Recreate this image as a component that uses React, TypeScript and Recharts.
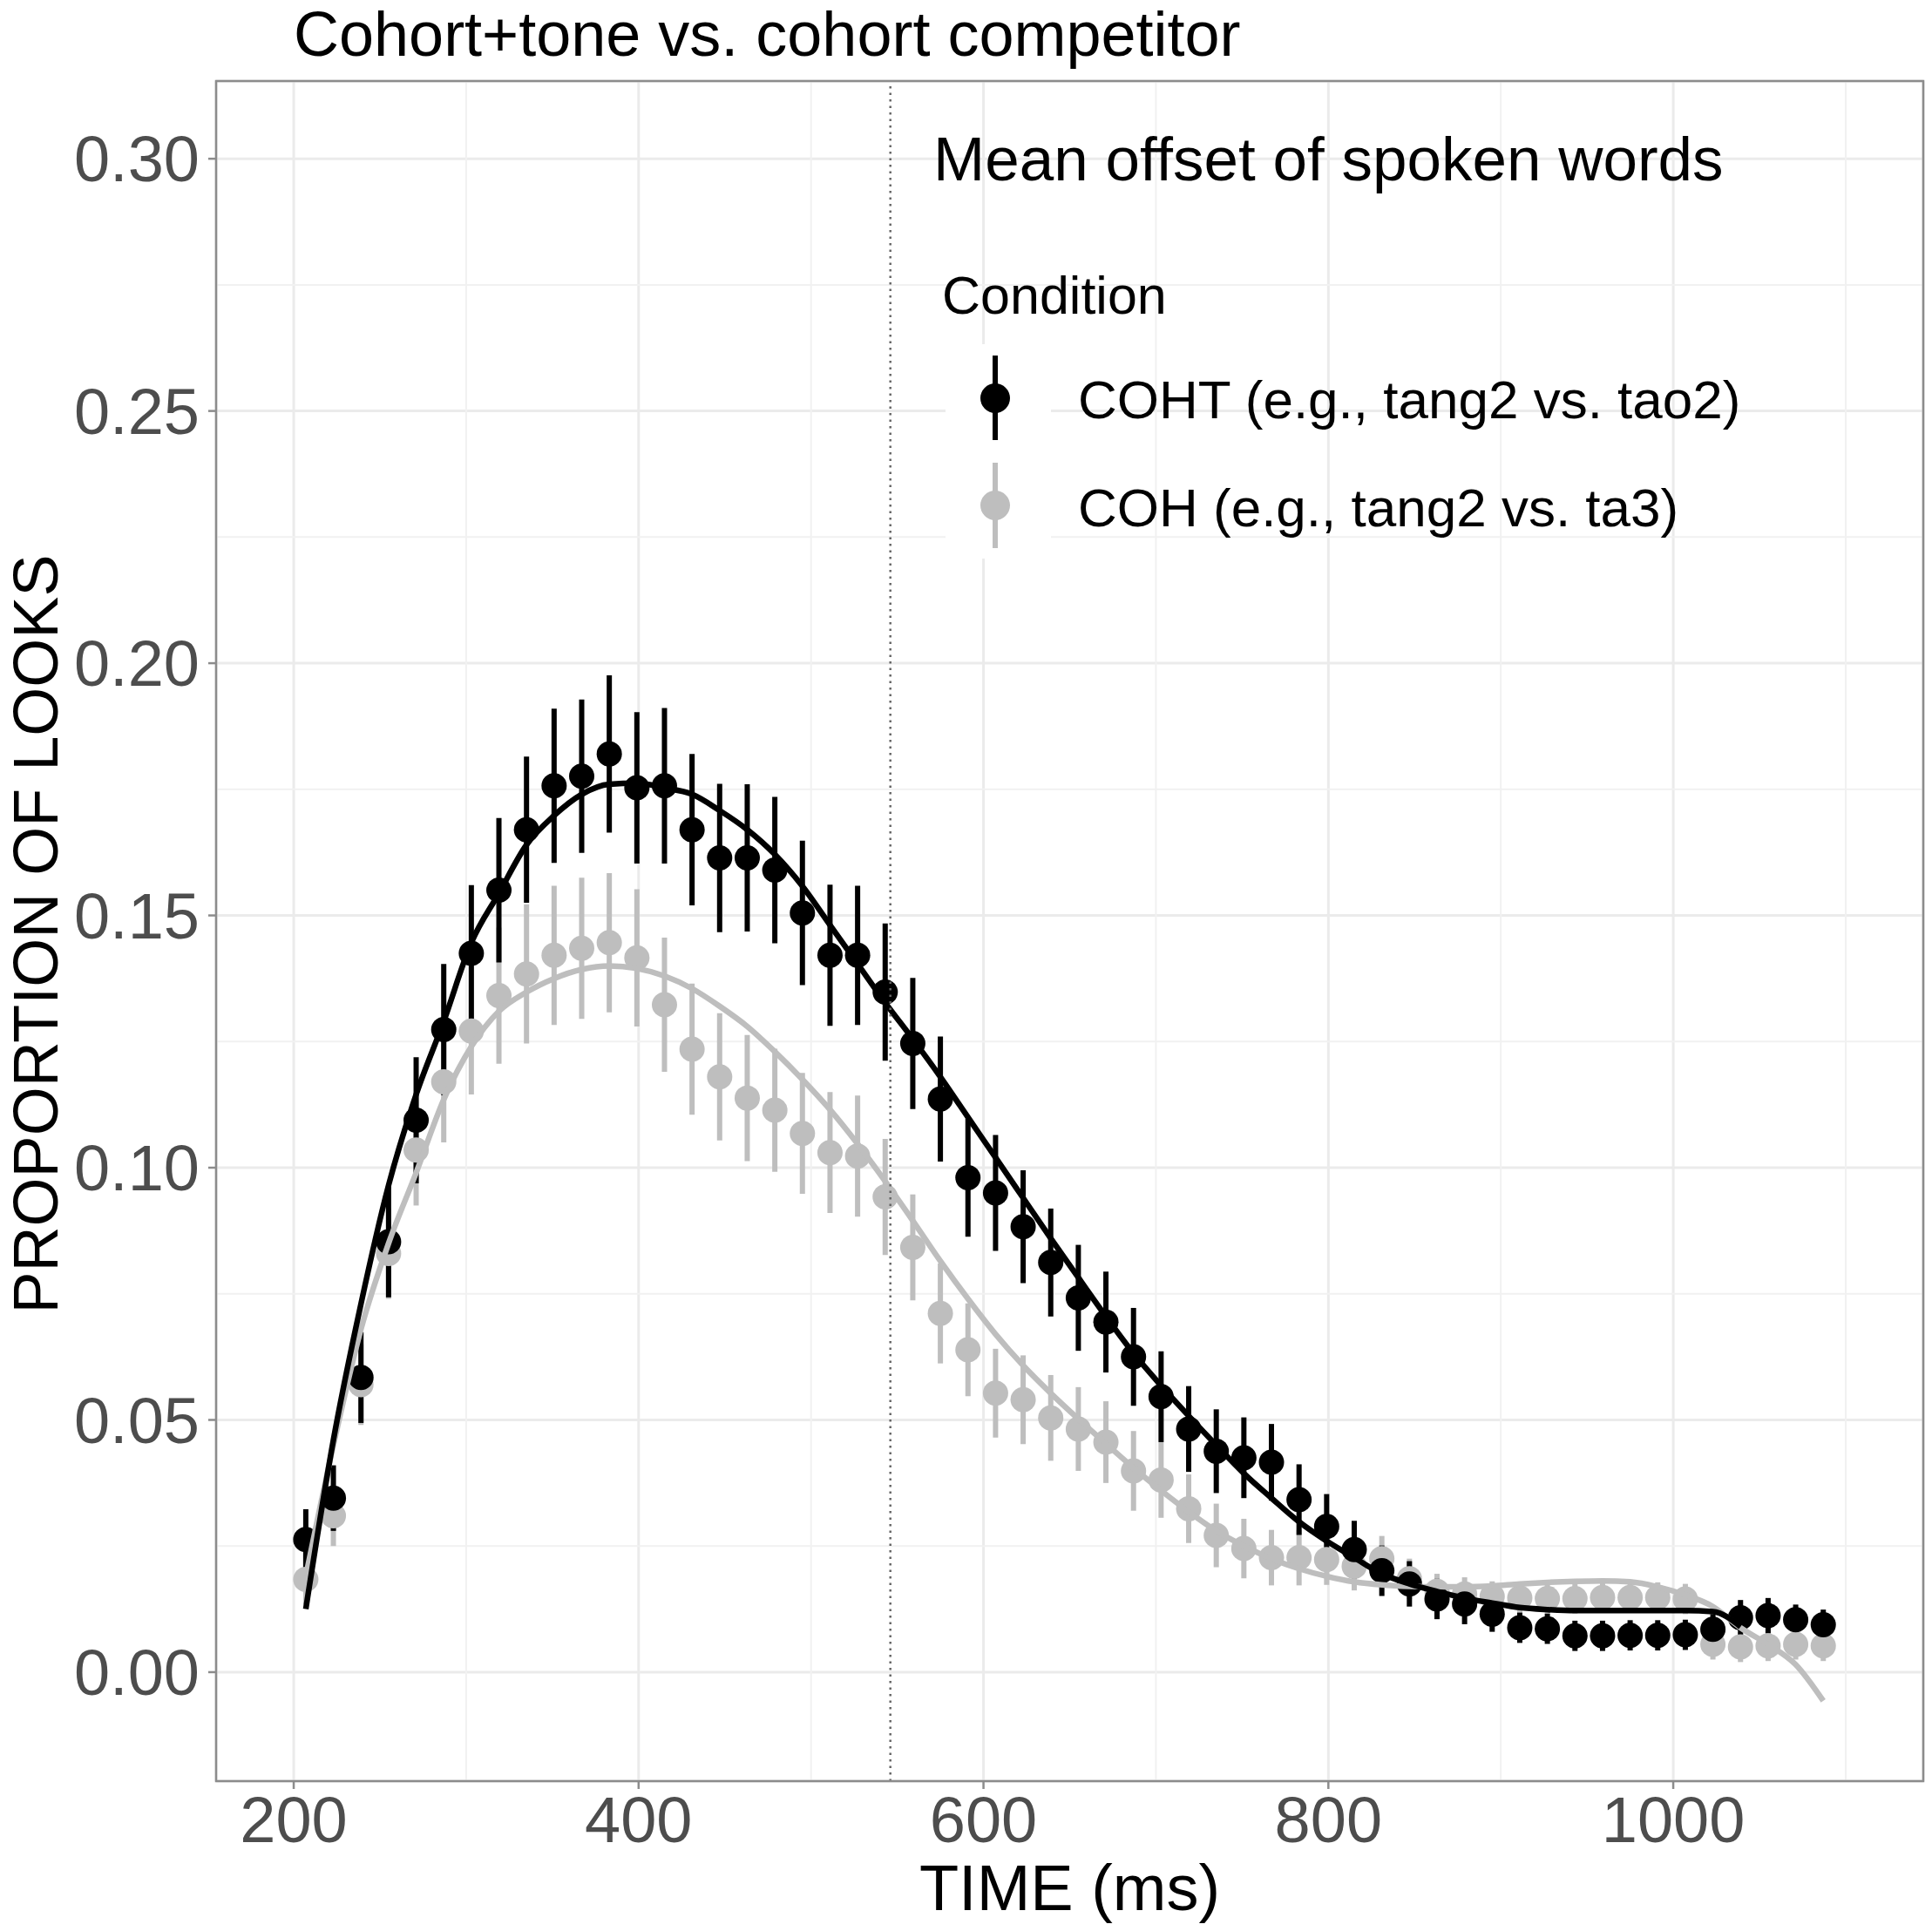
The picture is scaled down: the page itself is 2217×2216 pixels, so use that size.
import React from 'react';
import {
  ComposedChart,
  XAxis,
  YAxis,
  CartesianGrid,
  Scatter,
  Line,
  ErrorBar,
  ReferenceLine,
  ReferenceArea,
  ReferenceDot,
} from 'recharts';

const FONT = '"Liberation Sans", Arial, Helvetica, sans-serif';
const W = 2217;
const H = 2216;

// Time bins (ms)
const times = [
  207, 223, 239, 255, 271, 287, 303, 319,
  335, 351, 367, 383, 399, 415, 431, 447,
  463, 479, 495, 511, 527, 543, 559, 575,
  591, 607, 623, 639, 655, 671, 687, 703,
  719, 735, 751, 767, 783, 799, 815, 831,
  847, 863, 879, 895, 911, 927, 943, 959,
  975, 991, 1007, 1023, 1039, 1055, 1071, 1087,
];

// COHT observed means and error half-widths
const coht = [
  0.0263, 0.0345, 0.0584, 0.0853, 0.1094, 0.1274, 0.1425, 0.155,
  0.167, 0.1757, 0.1776, 0.182, 0.1753, 0.1757, 0.167, 0.1614,
  0.1614, 0.159, 0.1505, 0.1421, 0.1421, 0.1348, 0.1246, 0.1136,
  0.098, 0.095, 0.0883, 0.0812, 0.0742, 0.0694, 0.0625, 0.0546,
  0.0482, 0.0438, 0.0425, 0.0416, 0.0342, 0.0289, 0.0243, 0.0201,
  0.0175, 0.0145, 0.0135, 0.0115, 0.0088, 0.0086, 0.0072, 0.0072,
  0.0073, 0.0073, 0.0074, 0.0085, 0.0108, 0.0112, 0.0104, 0.0094,
];
const cohtErr = [
  0.006, 0.0065, 0.009, 0.011, 0.0125, 0.013, 0.0135, 0.0143,
  0.0145, 0.0153, 0.0152, 0.0156, 0.015, 0.0154, 0.015, 0.0147,
  0.0146, 0.0145, 0.0143, 0.014, 0.0138, 0.0136, 0.013, 0.0124,
  0.0117, 0.0115, 0.0112, 0.0107, 0.0105, 0.01, 0.0097, 0.009,
  0.0085, 0.0083, 0.008, 0.0076, 0.007, 0.0064, 0.0057, 0.005,
  0.0045, 0.004, 0.004, 0.0035, 0.003, 0.003, 0.003, 0.003,
  0.003, 0.003, 0.003, 0.003, 0.0035, 0.0035, 0.003, 0.003,
];

// COH observed means and error half-widths
const coh = [
  0.0184, 0.031, 0.057, 0.083, 0.1035, 0.117, 0.1271, 0.1341,
  0.1384, 0.1421, 0.1435, 0.1446, 0.1416, 0.1323, 0.1235, 0.118,
  0.1138, 0.1114, 0.1068, 0.103, 0.1023, 0.0942, 0.0842, 0.0711,
  0.0639, 0.0553, 0.054, 0.0504, 0.0482, 0.0456, 0.0399, 0.0381,
  0.0324, 0.0271, 0.0245, 0.0227, 0.0227, 0.0223, 0.021, 0.0225,
  0.0185, 0.016, 0.0155, 0.015, 0.0147, 0.0146, 0.0146, 0.0148,
  0.0148, 0.0148, 0.0145, 0.0055, 0.005, 0.0052, 0.0055, 0.0052,
];
const cohErr = [
  0.005, 0.006, 0.008, 0.009, 0.011, 0.012, 0.0126, 0.0135,
  0.0138, 0.0138, 0.014, 0.0138, 0.0136, 0.0133, 0.013, 0.0126,
  0.0125, 0.0122, 0.012, 0.012, 0.012, 0.0115, 0.0105, 0.0099,
  0.0092, 0.0088, 0.0088, 0.0085, 0.0083, 0.0081, 0.0079, 0.0075,
  0.0068, 0.0063, 0.0059, 0.0055, 0.0055, 0.005, 0.0048, 0.0045,
  0.004, 0.0035, 0.0033, 0.003, 0.003, 0.003, 0.003, 0.003,
  0.003, 0.003, 0.003, 0.003, 0.003, 0.003, 0.003, 0.003,
];

// Model fits
const cohtFit = [
  0.0125, 0.046, 0.073, 0.0965, 0.1145, 0.129, 0.1446, 0.1544,
  0.164, 0.1698, 0.174, 0.176, 0.1762, 0.1753, 0.174, 0.1708,
  0.167, 0.1621, 0.1558, 0.1481, 0.1404, 0.1327, 0.1255, 0.118,
  0.11, 0.102, 0.094, 0.086, 0.0782, 0.0705, 0.0632, 0.0568,
  0.0508, 0.045, 0.0394, 0.0345, 0.0298, 0.026, 0.0227, 0.0195,
  0.0175, 0.016, 0.0147, 0.0137, 0.0128, 0.0124, 0.0122, 0.0122,
  0.0122, 0.0122, 0.0122, 0.012, 0.009, null, null, null,
];
const cohFit = [
  0.019, 0.045, 0.068, 0.085, 0.099, 0.1135, 0.124, 0.131,
  0.1348, 0.1375, 0.1393, 0.14, 0.1395, 0.138, 0.1355, 0.132,
  0.128, 0.123, 0.1175, 0.1115, 0.1047, 0.0973, 0.0895, 0.0815,
  0.074, 0.067, 0.0608, 0.0553, 0.0502, 0.0453, 0.0405, 0.036,
  0.0318, 0.028, 0.025, 0.0225, 0.0205, 0.019, 0.0179, 0.0173,
  0.017, 0.0169, 0.0169, 0.0171, 0.0175, 0.0178, 0.018, 0.0181,
  0.0179, 0.0169, 0.0153, 0.013, 0.0088, 0.0055, 0.0015, -0.0057,
];

const xTicks = [200, 400, 600, 800, 1000];
const yTicks = [0, 0.05, 0.1, 0.15, 0.2, 0.25, 0.3];
const xMinor = [300, 500, 700, 900, 1100];
const yMinor = [0.025, 0.075, 0.125, 0.175, 0.225, 0.275];
const xDomain: [number, number] = [155, 1145];
const yDomain: [number, number] = [-0.0216, 0.3154];
const meanOffset = 546;
const annotationPos = { t: 800, v: 0.3 };
const annotationText = 'Mean offset of spoken words';

const titleText = 'Cohort+tone vs. cohort competitor';
const xTitle = 'TIME (ms)';
const yTitle = 'PROPORTION OF LOOKS';
const legendTitle = 'Condition';
const legendLabels = ['COHT (e.g., tang2 vs. tao2)', 'COH (e.g., tang2 vs. ta3)'];

const BLACK = '#000000';
const GREY = '#bebebe';
const BORDER = '#8c8c8c';

const toPoints = (vals: number[], errs: number[]) =>
  times.map((t, i) => ({ t, v: vals[i], e: errs[i] }));
const toLine = (vals: (number | null)[]) =>
  times.map((t, i) => ({ t, v: vals[i] })).filter((d) => d.v !== null);

const cohtPts = toPoints(coht, cohtErr);
const cohPts = toPoints(coh, cohErr);
const cohtFitRows = toLine(cohtFit);
const cohFitRows = toLine(cohFit);

const dotShape = (color: string) => (props: any) =>
  <circle cx={props.cx} cy={props.cy} r={14.5} fill={color} />;

export default function App() {
  return (
    <div
      style={{
        position: 'absolute',
        left: 0,
        top: 0,
        width: W,
        height: H,
        background: '#ffffff',
        fontFamily: FONT,
      }}
    >
      <ComposedChart
        width={W}
        height={H}
        margin={{ top: 93, right: 10, bottom: 0, left: 0 }}
        style={{ fontFamily: FONT }}
      >
        <CartesianGrid stroke="#ebebeb" strokeWidth={3} />
        {xMinor.map((x) => (
          <ReferenceLine
            key={'mx' + x}
            x={x}
            stroke="#f1f1f1"
            strokeWidth={2}
            zIndex={-90}
          />
        ))}
        {yMinor.map((y) => (
          <ReferenceLine
            key={'my' + y}
            y={y}
            stroke="#f1f1f1"
            strokeWidth={2}
            zIndex={-90}
          />
        ))}
        <XAxis
          type="number"
          dataKey="t"
          domain={xDomain}
          ticks={xTicks}
          allowDataOverflow
          interval={0}
          height={172}
          tickSize={9}
          tickMargin={8}
          axisLine={false}
          tickLine={{ stroke: BORDER, strokeWidth: 2.5 }}
          tick={{ fontSize: 74, fill: '#4d4d4d', fontFamily: FONT }}
        />
        <YAxis
          type="number"
          dataKey="v"
          domain={yDomain}
          ticks={yTicks}
          allowDataOverflow
          interval={0}
          width={248}
          tickSize={9}
          tickMargin={10}
          axisLine={false}
          tickLine={{ stroke: BORDER, strokeWidth: 2.5 }}
          tick={{ fontSize: 74, fill: '#4d4d4d', fontFamily: FONT }}
          tickFormatter={(v: number) => v.toFixed(2)}
        />
        <Scatter
          data={cohPts}
          dataKey="v"
          fill={GREY}
          shape={dotShape(GREY)}
          isAnimationActive={false}
        >
          <ErrorBar dataKey="e" direction="y" width={0} stroke={GREY} strokeWidth={6} />
        </Scatter>
        <Scatter
          data={cohtPts}
          dataKey="v"
          fill={BLACK}
          shape={dotShape(BLACK)}
          isAnimationActive={false}
        >
          <ErrorBar dataKey="e" direction="y" width={0} stroke={BLACK} strokeWidth={6} />
        </Scatter>
        <Line
          data={cohFitRows}
          dataKey="v"
          type="monotone"
          stroke={GREY}
          strokeWidth={6.5}
          dot={false}
          activeDot={false}
          isAnimationActive={false}
          zIndex={700}
        />
        <Line
          data={cohtFitRows}
          dataKey="v"
          type="monotone"
          stroke={BLACK}
          strokeWidth={6.5}
          dot={false}
          activeDot={false}
          isAnimationActive={false}
          zIndex={710}
        />
        <ReferenceLine
          x={meanOffset}
          stroke="#666666"
          strokeWidth={2.5}
          strokeDasharray="2.5 5"
          zIndex={720}
        />
        <ReferenceDot
          x={annotationPos.t}
          y={annotationPos.v}
          r={0}
          fill="none"
          stroke="none"
          label={{
            value: annotationText,
            position: 'center',
            fill: '#000000',
            fontSize: 71,
            fontFamily: FONT,
          }}
        />
        <ReferenceArea
          x1={xDomain[0]}
          x2={xDomain[1]}
          y1={yDomain[0]}
          y2={yDomain[1]}
          fill="none"
          fillOpacity={0}
          stroke={BORDER}
          strokeWidth={2.5}
          ifOverflow="visible"
          zIndex={800}
        />
      </ComposedChart>
      <svg
        width={W}
        height={H}
        style={{ position: 'absolute', left: 0, top: 0, pointerEvents: 'none' }}
        fontFamily={FONT}
      >
        <text x={337} y={64} fontSize={72} fill="#000000">
          {titleText}
        </text>
        <text x={1227.5} y={2192} fontSize={74} fill="#000000" textAnchor="middle">
          {xTitle}
        </text>
        <text
          x={66}
          y={1072}
          fontSize={72}
          fill="#000000"
          textAnchor="middle"
          transform="rotate(-90 66 1072)"
        >
          {yTitle}
        </text>
        <text x={1081} y={360} fontSize={61} fill="#000000">
          {legendTitle}
        </text>
        <rect x={1085} y={395} width={121} height={123} fill="#ffffff" />
        <rect x={1085} y={518} width={121} height={123} fill="#ffffff" />
        <line x1={1142} x2={1142} y1={408} y2={505} stroke={BLACK} strokeWidth={6} />
        <circle cx={1142} cy={457} r={17} fill={BLACK} />
        <line x1={1142} x2={1142} y1={531} y2={629} stroke={GREY} strokeWidth={6} />
        <circle cx={1142} cy={580} r={17} fill={GREY} />
        <text x={1237} y={480} fontSize={62} fill="#000000">
          {legendLabels[0]}
        </text>
        <text x={1237} y={604} fontSize={62} fill="#000000">
          {legendLabels[1]}
        </text>
      </svg>
    </div>
  );
}
